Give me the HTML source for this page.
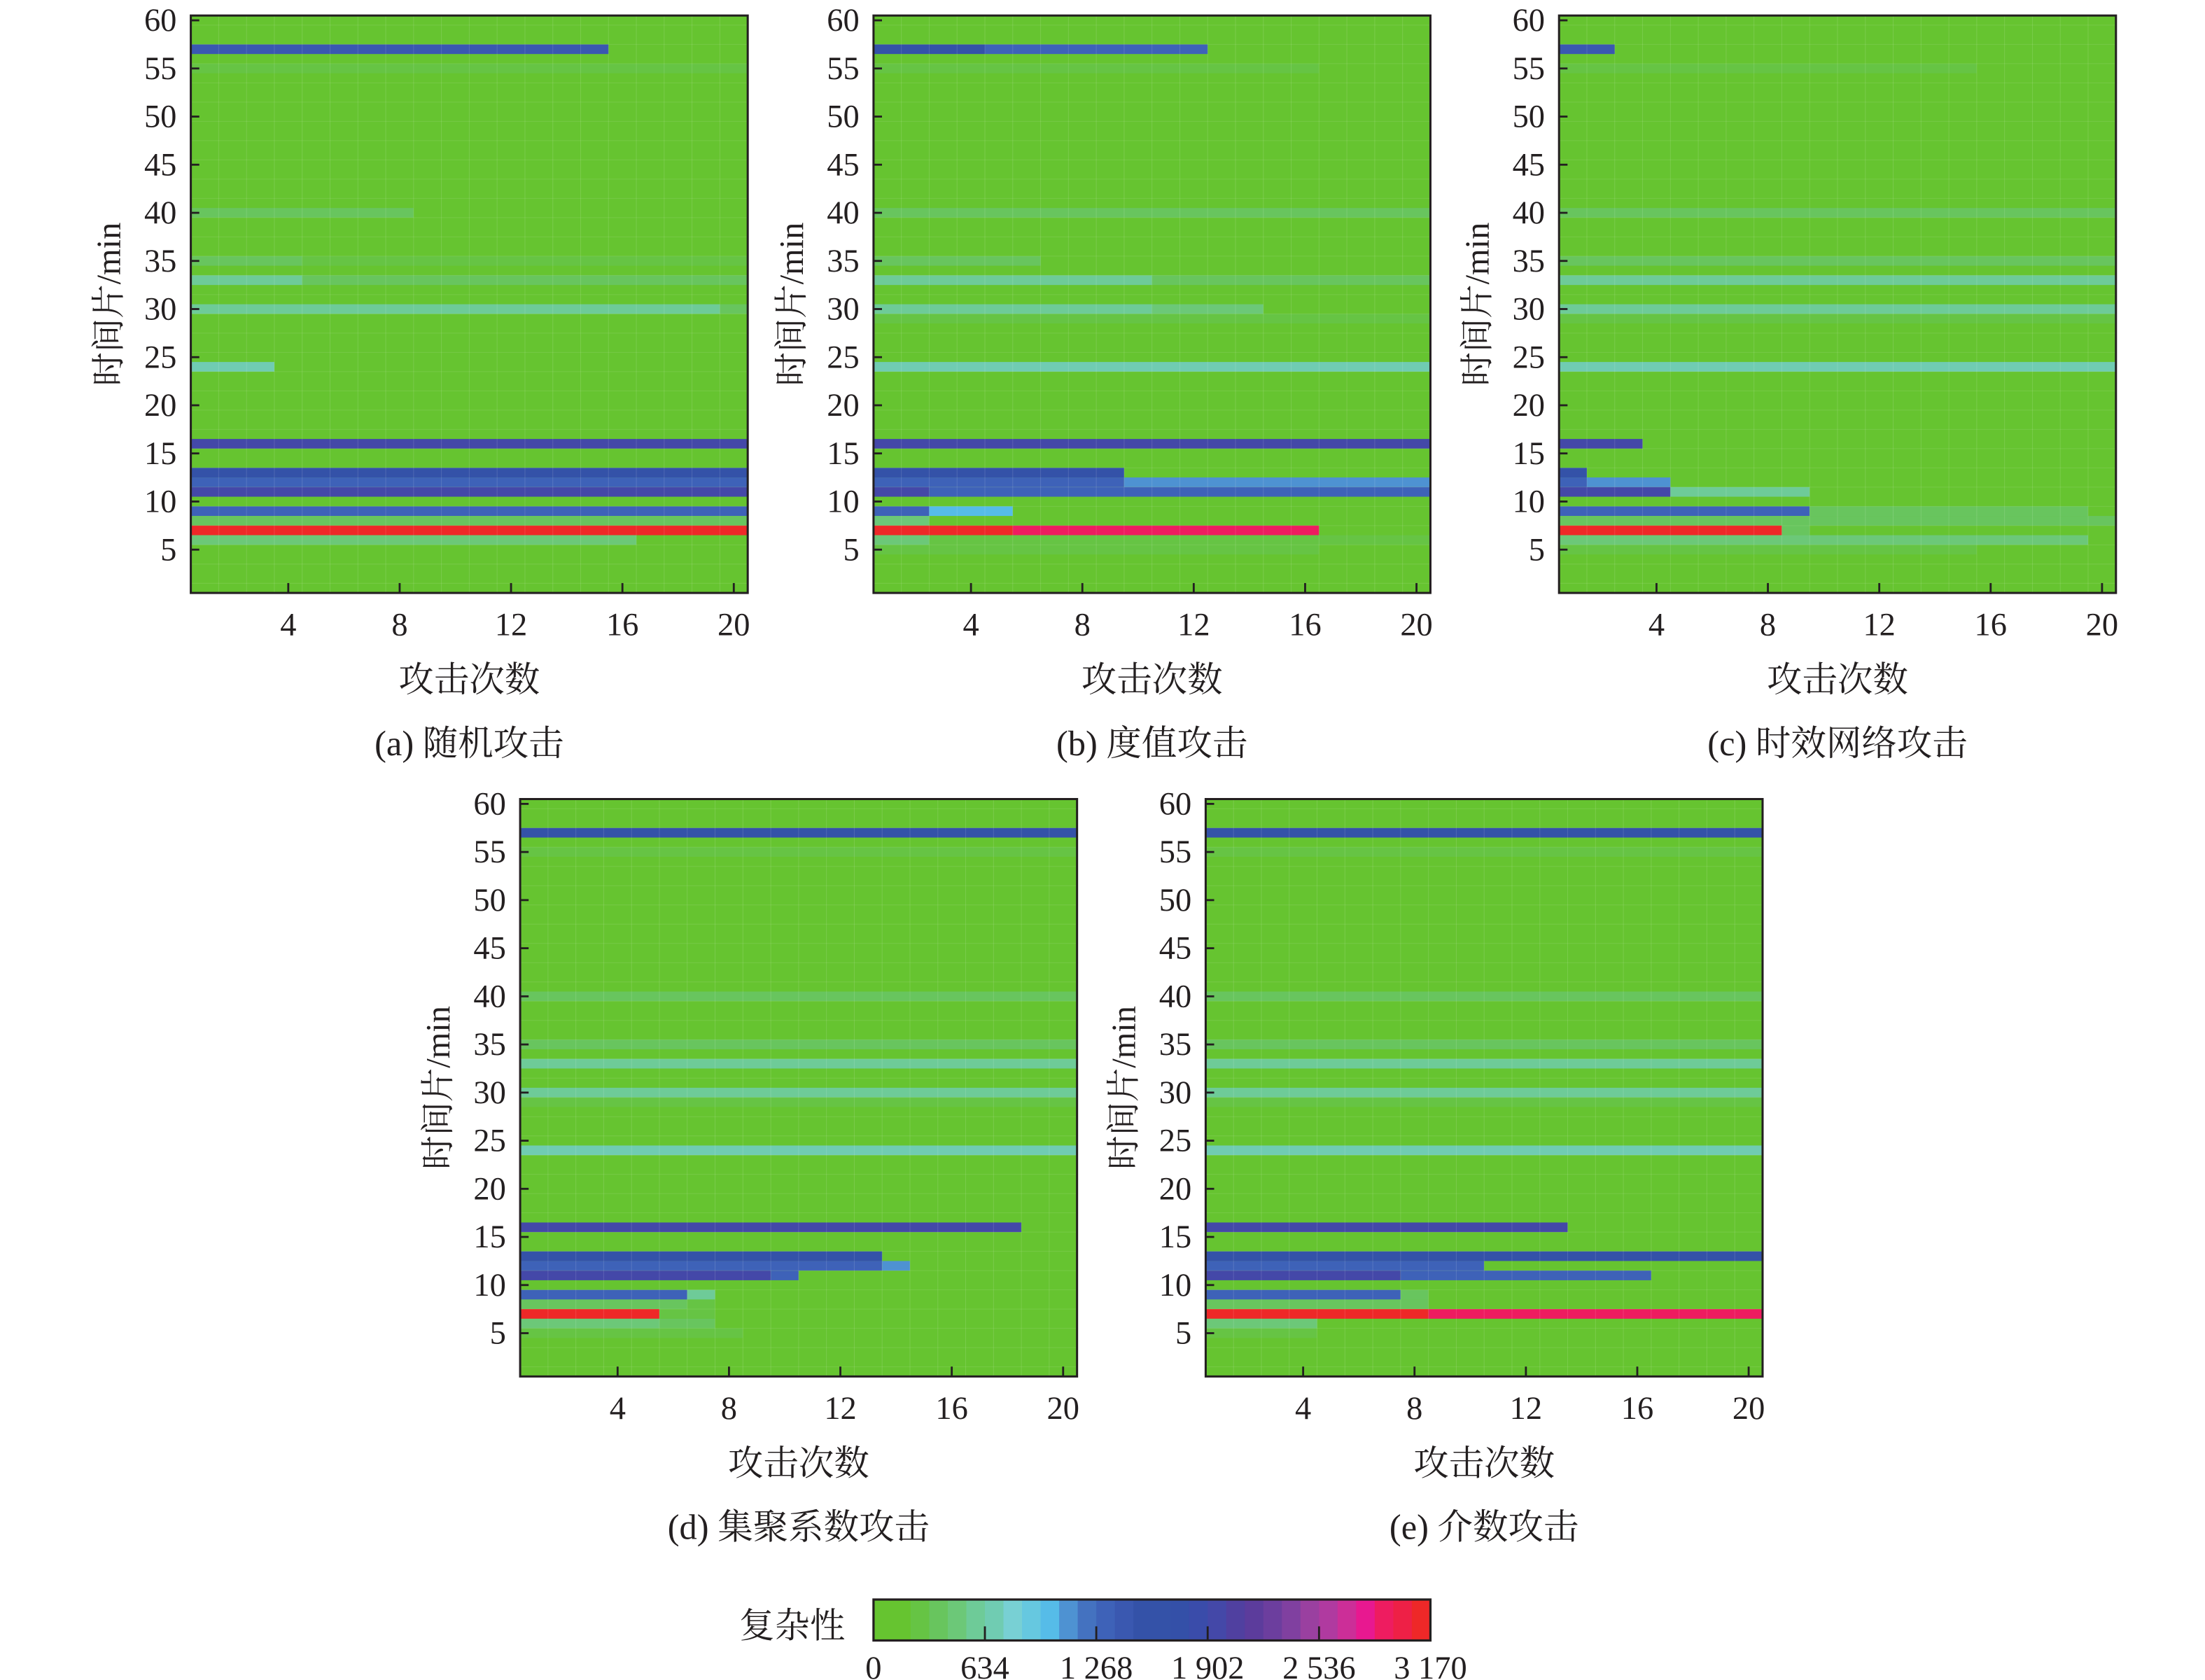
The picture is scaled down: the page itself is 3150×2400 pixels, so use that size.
<!DOCTYPE html>
<html><head><meta charset="utf-8"><style>
html,body{margin:0;padding:0;background:#fff;}
svg{display:block;}
text{font-family:"Liberation Serif","Noto Serif CJK SC","Noto Sans CJK SC",serif;fill:#231f20;}
</style></head><body>
<svg id="fig" width="3150" height="2400" viewBox="0 0 1560 1190" preserveAspectRatio="none" xmlns="http://www.w3.org/2000/svg"></svg>
<script>
// ---- data: [row(time slice), fromAttack, toAttack, complexity] ----
const panelA = [[57,1,15,1425],[55,1,20,260],[40,1,8,370],[35,1,4,370],[35,5,20,260],[33,1,4,580],[33,5,20,370],[30,1,19,580],[30,20,20,370],[24,1,3,690],[16,1,20,1955],[13,1,20,1640],[12,1,20,1320],[11,1,20,1955],[9,1,20,1320],[8,1,20,370],[7,1,20,3120],[6,1,16,475]];
const panelB = [[57,1,4,1640],[57,5,12,1320],[55,1,16,260],[40,1,20,370],[35,1,6,370],[33,1,10,580],[33,11,20,370],[30,1,10,580],[30,11,14,475],[29,1,20,260],[24,1,20,690],[16,1,20,1955],[13,1,9,1640],[12,1,9,1320],[12,10,20,1110],[11,1,2,1955],[11,3,20,1320],[9,1,2,1320],[9,3,5,1005],[8,1,2,475],[7,1,5,3120],[7,6,16,2905],[6,1,2,475],[6,3,20,260],[5,1,16,260]];
const panelC = [[57,1,2,1425],[55,1,15,260],[40,1,20,370],[35,1,20,370],[33,1,20,580],[30,1,20,580],[29,1,20,260],[24,1,20,690],[16,1,3,1955],[13,1,1,1640],[12,1,1,1320],[12,2,4,1110],[11,1,4,1955],[11,5,9,580],[9,1,9,1320],[9,10,19,370],[8,1,20,370],[7,1,8,3120],[7,9,9,370],[6,1,19,475],[5,1,15,260]];
const panelD = [[57,1,20,1640],[55,1,20,260],[40,1,20,370],[35,1,20,370],[33,1,20,580],[30,1,20,580],[29,1,20,260],[24,1,20,690],[16,1,18,1955],[13,1,13,1640],[12,1,13,1320],[12,14,14,1110],[11,1,9,1955],[11,10,10,1320],[9,1,6,1320],[9,7,7,580],[8,1,6,370],[8,7,7,260],[7,1,5,3120],[7,6,7,260],[6,1,5,475],[6,6,7,370],[5,1,8,260]];
const panelE = [[57,1,20,1640],[55,1,20,260],[40,1,20,370],[35,1,20,370],[33,1,20,580],[30,1,20,580],[29,1,20,260],[24,1,20,690],[16,1,13,1955],[13,1,20,1640],[12,1,10,1320],[11,1,7,1955],[11,8,16,1320],[9,1,7,1320],[9,8,8,370],[8,1,8,370],[7,1,8,3120],[7,9,20,2905],[6,1,4,475],[5,1,4,260]];
const captions = ["(a) 随机攻击","(b) 度值攻击","(c) 时效网络攻击","(d) 集聚系数攻击","(e) 介数攻击"];
const yTicks = [5,10,15,20,25,30,35,40,45,50,55,60];
const xTicks = [4,8,12,16,20];
const cbarTicks = [0,634,1268,1902,2536,3170];
const cbarLabels = ["0","634","1 268","1 902","2 536","3 170"];
const cmapColors = ["#66c430","#66c430","#66c444","#68c55e","#6cc878","#6ecb98","#70ccb2","#78d0d4","#66c8e0","#56bce8","#4e92d2","#4472c0","#3e62b8","#3a58b0","#3452a8","#3452a8","#3450a8","#3a4caa","#4448a8","#5040a0","#5c3c9c","#6c3e9e","#8040a0","#9a40a0","#b03aa0","#cc2e98","#e81890","#ee1c60","#ee2046","#ee2828"];
const VMAX = 3170;

const NS="http://www.w3.org/2000/svg";
const svg=document.getElementById('fig');
function mk(tag,attrs,parent){const e=document.createElementNS(NS,tag);for(const k in attrs)e.setAttribute(k,attrs[k]);(parent||svg).appendChild(e);return e;}
function color(v){let i=Math.floor(v/VMAX*cmapColors.length);if(i<0)i=0;if(i>=cmapColors.length)i=cmapColors.length-1;return cmapColors[i];}

const panels=[
 {data:panelA,x:135,y:11,name:'panel-a'},
 {data:panelB,x:618,y:11,name:'panel-b'},
 {data:panelC,x:1103,y:11,name:'panel-c'},
 {data:panelD,x:368,y:566,name:'panel-d'},
 {data:panelE,x:853,y:566,name:'panel-e'}];
const W=394,H=409;

panels.forEach((p,pi)=>{
  const g=mk('g',{});
  
  
  const xs=v=>p.x+(v-0.5)/20*W;
  const ys=v=>p.y+(60.5-v)/60*H;
  const bg=mk('rect',{x:p.x,y:p.y,width:W,height:H,fill:color(0)},g);
  
  
  p.data.forEach(d=>{
    const r=mk('rect',{x:xs(d[1]-0.5),y:ys(d[0]+0.5),width:xs(d[2]+0.5)-xs(d[1]-0.5),height:ys(d[0]-0.5)-ys(d[0]+0.5),fill:color(d[3])},g);
    
    
  });
  for(let c=1;c<20;c++){mk('line',{x1:xs(c+0.5),x2:xs(c+0.5),y1:p.y,y2:p.y+H,stroke:'#fff','stroke-opacity':0.13,'stroke-width':0.5},g);}
  for(let r=1;r<60;r+=2){mk('line',{x1:p.x,x2:p.x+W,y1:ys(r+0.5),y2:ys(r+0.5),stroke:'#fff','stroke-opacity':0.1,'stroke-width':0.5},g);}
  const frame=mk('rect',{x:p.x,y:p.y,width:W,height:H,fill:'none',stroke:'#231f20','stroke-width':1.5},g);
  
  
  yTicks.forEach(t=>{
    mk('line',{x1:p.x,x2:p.x+6,y1:ys(t),y2:ys(t),stroke:'#231f20','stroke-width':1.4},g);
    const tx=mk('text',{x:p.x-10,y:ys(t)+7.5,'text-anchor':'end','font-size':23},g);
    tx.textContent=t;
    
    
  });
  xTicks.forEach(t=>{
    mk('line',{x1:xs(t),x2:xs(t),y1:p.y+H,y2:p.y+H-7,stroke:'#231f20','stroke-width':1.4},g);
    const tx=mk('text',{x:xs(t),y:p.y+H+30,'text-anchor':'middle','font-size':23},g);
    tx.textContent=t;
    
    
  });
  const cx=p.x+W/2;
  const yt=mk('text',{x:0,y:0,'text-anchor':'middle','font-size':24,transform:`translate(${p.x-50},${p.y+H/2}) rotate(-90)`},g);
  yt.textContent='时间片/min';
  
  
  const xt=mk('text',{x:cx,y:p.y+H+70,'text-anchor':'middle','font-size':25},g);
  xt.textContent='攻击次数';
  
  
  const cap=mk('text',{x:cx,y:p.y+H+115,'text-anchor':'middle','font-size':25},g);
  cap.textContent=captions[pi];
  
  
});

const cb=mk('g',{});


const CBX=618,CBY=1133,CBW=394,CBH=29;
const cbx=v=>CBX+v/VMAX*CBW;
cmapColors.forEach((c,i)=>{
  const r=mk('rect',{x:cbx(i*VMAX/cmapColors.length),y:CBY,width:CBW/cmapColors.length+0.3,height:CBH,fill:c},cb);
  
  
});
mk('rect',{x:CBX,y:CBY,width:CBW,height:CBH,fill:'none',stroke:'#231f20','stroke-width':1.6},cb);
cbarTicks.forEach((t,i)=>{
  if(i>0&&i<cbarTicks.length-1)mk('line',{x1:cbx(t),x2:cbx(t),y1:CBY+CBH,y2:CBY+CBH-10,stroke:'#231f20','stroke-width':1.4},cb);
  const tx=mk('text',{x:cbx(t),y:1189,'text-anchor':'middle','font-size':23},cb);
  tx.textContent=cbarLabels[i];
  
  
});
const cbt=mk('text',{x:598,y:1160,'text-anchor':'end','font-size':25},cb);
cbt.textContent='复杂性';


</script>
</body></html>
